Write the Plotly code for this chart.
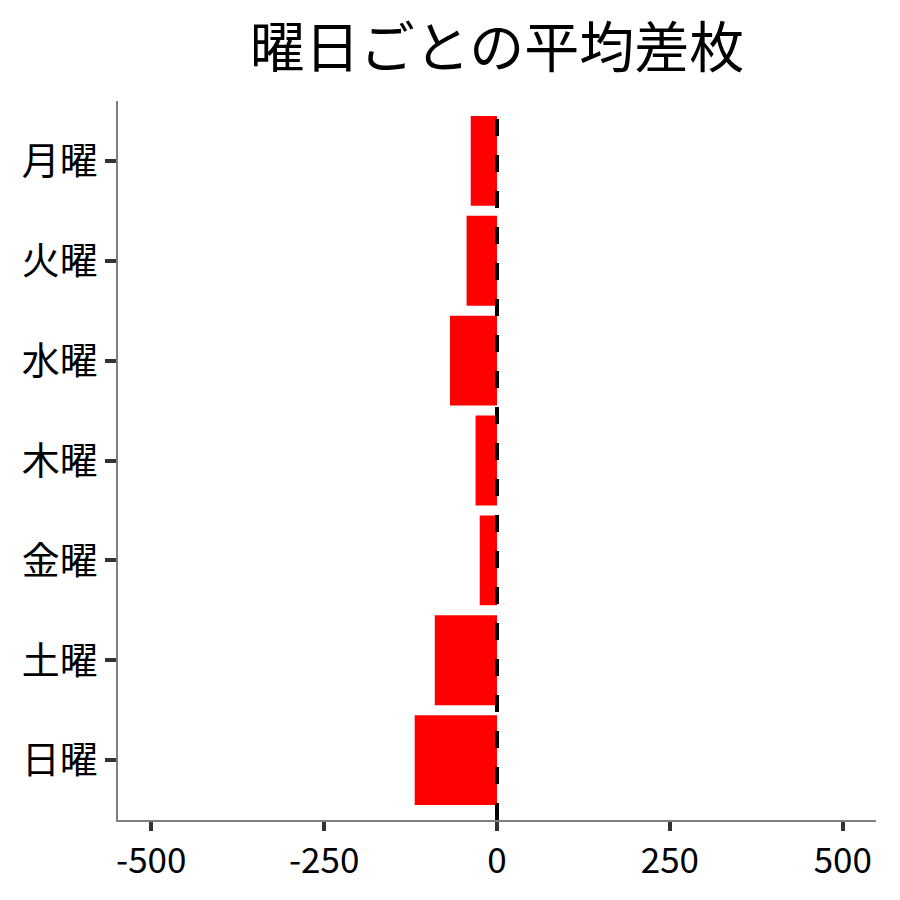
import plotly.graph_objects as go

days = ["月曜", "火曜", "水曜", "木曜", "金曜", "土曜", "日曜"]
avg_diff = [-38, -44, -68, -31, -25, -90, -119]
x_ticks = [-500, -250, 0, 250, 500]
title_text = "曜日ごとの平均差枚"

FONT = "Noto Sans CJK JP"

fig = go.Figure()
fig.add_trace(go.Bar(
    x=avg_diff, y=days, orientation="h",
    marker=dict(color="#FF0000", line=dict(width=0)),
    width=0.9,
))
fig.add_shape(type="line", xref="x", yref="paper", x0=0, x1=0, y0=0, y1=1,
              line=dict(color="black", width=4, dash="17px,19px"), layer="above")

fig.update_layout(
    width=900, height=900,
    paper_bgcolor="white", plot_bgcolor="white",
    margin=dict(l=110, r=32, t=93, b=88),
    title=dict(text=title_text, xref="paper", x=0.5, xanchor="center",
               y=0.956, yanchor="middle",
               font=dict(family=FONT, size=55, color="black")),
    showlegend=False,
    font=dict(family=FONT),
)
fig.update_xaxes(
    range=[-548, 548], tickvals=x_ticks, ticktext=[str(v) for v in x_ticks],
    showgrid=False, zeroline=False, showline=True, linecolor="#7f7f7f", linewidth=1.5,
    ticks="outside", ticklen=9, tickwidth=4, tickcolor="#333333",
    tickfont=dict(family=FONT, size=35, color="black"),
)
fig.update_yaxes(
    categoryorder="array", categoryarray=days[::-1],
    range=[-0.6, 6.6],
    showgrid=False, zeroline=False, showline=True, linecolor="#7f7f7f", linewidth=1.5,
    ticks="outside", ticklen=11, tickwidth=4, tickcolor="#333333",
    tickfont=dict(family=FONT, size=38, color="black"),
)
fig.write_html("out.html")
